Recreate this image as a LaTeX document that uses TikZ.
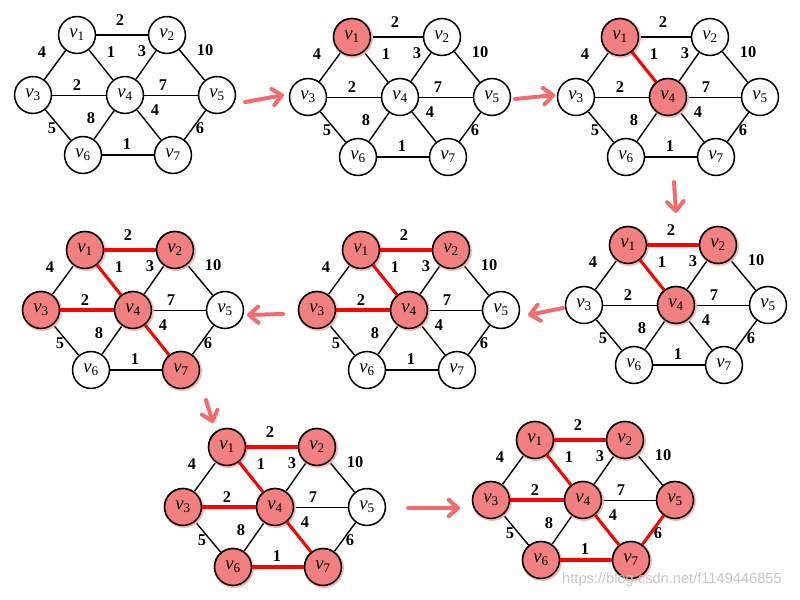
\documentclass[tikz,border=0pt]{standalone}
\usepackage{fontspec}
\setmainfont{Liberation Serif}
\newfontfamily\wmfont{Liberation Sans}
\usetikzlibrary{arrows.meta,shadows}
\definecolor{hot}{HTML}{F28080}
\definecolor{glow}{HTML}{F7B4B4}
\definecolor{hotline}{HTML}{FF0000}
\definecolor{marker}{HTML}{F46B6B}

\newcommand{\vx}[1]{\textit{v}\textsubscript{#1}}

\tikzset{
  vtx/.style={circle,draw,line width=1.3pt,fill=white,minimum size=31.5pt,inner sep=0pt,
    font=\fontsize{16}{16}\selectfont},
  lit/.style={fill=hot,drop shadow={fill=glow,opacity=1,shadow xshift=.8pt,shadow yshift=-.8pt,shadow scale=1.08}},
  wt/.style={font=\fontsize{14}{14}\selectfont\bfseries,inner sep=0pt},
  link/.style={line width=1.2pt},
  hline/.style={line width=0.6pt},
  picked/.style={draw=hotline,line width=2.6pt},
  redarrow/.style={draw=marker,line width=3.4pt,line cap=round,
    -{Straight Barb[length=8pt,width=14pt,round]}},
  wm/.style={font=\wmfont\fontsize{12.5}{12.5}\selectfont,text=gray!45},
  primgraph/.pic={
    \node[vtx] (-v1) at (-48,-60) {\vx1};
    \node[vtx] (-v2) at (42,-60) {\vx2};
    \node[vtx] (-v3) at (-92,0) {\vx3};
    \node[vtx] (-v4) at (0,0) {\vx4};
    \node[vtx] (-v5) at (92,0) {\vx5};
    \node[vtx] (-v6) at (-42,60) {\vx6};
    \node[vtx] (-v7) at (48,60) {\vx7};
    \draw[link] (-v1) -- (-v2);
    \draw[link] (-v1) -- (-v3);
    \draw[link] (-v1) -- (-v4);
    \draw[link] (-v2) -- (-v4);
    \draw[link] (-v2) -- (-v5);
    \draw[hline] (-v3) -- (-v4);
    \draw[hline] (-v4) -- (-v5);
    \draw[link] (-v4) -- (-v6);
    \draw[link] (-v4) -- (-v7);
    \draw[link] (-v3) -- (-v6);
    \draw[link] (-v5) -- (-v7);
    \draw[link] (-v6) -- (-v7);
    % weights
    \node[wt] (-w12) at (-5,-75) {2};
    \node[wt] (-w13) at (-83,-43) {4};
    \node[wt] (-w14) at (-14,-43) {1};
    \node[wt] (-w24) at (17,-44) {3};
    \node[wt] (-w25) at (80,-45) {10};
    \node[wt] (-w34) at (-48,-10) {2};
    \node[wt] (-w45) at (38,-10) {7};
    \node[wt] (-w46) at (-34,23) {8};
    \node[wt] (-w47) at (30,15) {4};
    \node[wt] (-w36) at (-73,33) {5};
    \node[wt] (-w57) at (75,33) {6};
    \node[wt] (-w67) at (2,49) {1};
  }
}

\begin{document}
\begin{tikzpicture}[x=0.3mm,y=-0.3mm]
\useasboundingbox[fill=white] (0,0) rectangle (800,600);

% the eight steps
\pic (g1) at (125,95) {primgraph};
\pic (g2) at (400,97) {primgraph};
\pic (g3) at (668,97) {primgraph};
\pic (g4) at (676,305) {primgraph};
\pic (g5) at (409,310) {primgraph};
\pic (g6) at (133,310) {primgraph};
\pic (g7) at (275,507) {primgraph};
\pic (g8) at (583,500) {primgraph};

% vertices already in the tree
\foreach \i in {1} \node[vtx,lit] at (g2-v\i) {\vx\i};
\foreach \i in {1,4} \node[vtx,lit] at (g3-v\i) {\vx\i};
\foreach \i in {1,2,4} \node[vtx,lit] at (g4-v\i) {\vx\i};
\foreach \i in {1,2,3,4} \node[vtx,lit] at (g5-v\i) {\vx\i};
\foreach \i in {1,2,3,4,7} \node[vtx,lit] at (g6-v\i) {\vx\i};
\foreach \i in {1,2,3,4,6,7} \node[vtx,lit] at (g7-v\i) {\vx\i};
\foreach \i in {1,2,3,4,5,6,7} \node[vtx,lit] at (g8-v\i) {\vx\i};

% tree edges
\foreach \a/\b in {1/4} \draw[picked] (g3-v\a) -- (g3-v\b);
\foreach \a/\b in {1/4,1/2} \draw[picked] (g4-v\a) -- (g4-v\b);
\foreach \a/\b in {1/4,1/2,3/4} \draw[picked] (g5-v\a) -- (g5-v\b);
\foreach \a/\b in {1/4,1/2,3/4,4/7} \draw[picked] (g6-v\a) -- (g6-v\b);
\foreach \a/\b in {1/4,1/2,3/4,4/7,6/7} \draw[picked] (g7-v\a) -- (g7-v\b);
\foreach \a/\b in {1/4,1/2,3/4,4/7,6/7,5/7} \draw[picked] (g8-v\a) -- (g8-v\b);

% step arrows
\coordinate (a1s) at (245,102); \coordinate (a1e) at (284,95);
\coordinate (a2s) at (515,99);  \coordinate (a2e) at (555,95);
\coordinate (a3s) at (674,182); \coordinate (a3e) at (676,213);
\coordinate (a4s) at (563,308); \coordinate (a4e) at (528,315);
\coordinate (a5s) at (283,314); \coordinate (a5e) at (247,315);
\coordinate (a6s) at (206,400); \coordinate (a6e) at (213,423);
\coordinate (a7s) at (408,508); \coordinate (a7e) at (460,508);
\draw[redarrow] (a1s) -- (a1e);
\draw[redarrow] (a2s) -- (a2e);
\draw[redarrow] (a3s) -- (a3e);
\draw[redarrow] (a4s) -- (a4e);
\draw[redarrow] (a5s) -- (a5e);
\draw[redarrow] (a6s) -- (a6e);
\draw[redarrow] (a7s) -- (a7e);

\node[wm] (mark) at (672,580) {https://blog.csdn.net/f1149446855};
\end{tikzpicture}
\end{document}
